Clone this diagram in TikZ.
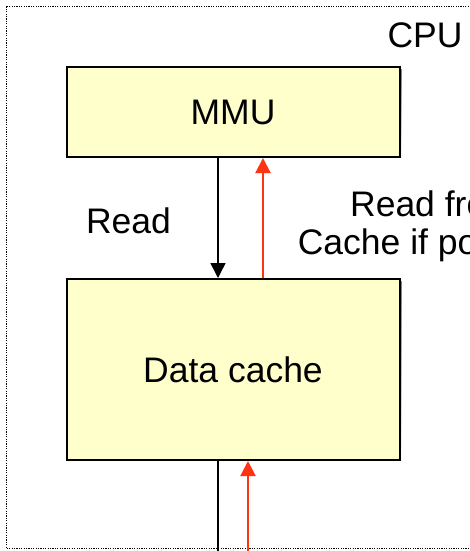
\documentclass[tikz,border=0pt]{standalone}
\usepackage{fontspec}
\setmainfont{Liberation Sans}
\usetikzlibrary{arrows.meta}
\definecolor{boxyellow}{HTML}{FFFFCC}
\definecolor{arrowred}{HTML}{FF3311}
\tikzset{unit/.append style={draw,fill=boxyellow,line width=2pt,minimum width=333pt,inner sep=0pt,font=\fontsize{35.5}{38}\selectfont}}
\tikzset{shade/.append style={fill=gray!60,line width=2pt,minimum width=333pt,inner sep=0pt}}
\tikzset{lbl/.append style={inner sep=0pt,font=\fontsize{35.5}{38}\selectfont}}
\tikzset{req/.append style={line width=1.5pt,-{Triangle[width=15pt,length=15pt]}}}
\tikzset{ans/.append style={arrowred,line width=2pt,-{Triangle[width=15pt,length=15pt]}}}

\begin{document}
\begin{tikzpicture}[x=1pt,y=-1pt]
                % frame of the picture
                \useasboundingbox (0,0) rectangle (470,551);
                \clip (0,0) rectangle (470,551);
                \draw[dash pattern=on 1.2pt off 1.2pt,line width=1.2pt,black] (6.5,6.5) rectangle (490,548.5);
                \node[lbl,anchor=base] (cpu) at (425,48) {CPU};
                % units
                \node[shade,minimum height=90pt] (mmus) at (235,114) {};
                \node[unit,minimum height=90pt] (mmu) at (233,112) {MMU};
                \node[shade,minimum height=181pt] (caches) at (235,371.5) {};
                \node[unit,minimum height=181pt] (cache) at (233,369.5) {Data cache};
                \coordinate (bus) at (233,570);
                % connectors
                \draw[req] ([xshift=-15pt]mmu.south) -- ([xshift=-15pt]cache.north);
                \draw[ans] ([xshift=30pt]cache.north) -- ([xshift=30pt]mmu.south);
                \draw[line width=1.5pt] ([xshift=-15pt]cache.south) -- ([xshift=-15pt]bus);
                \draw[ans] ([xshift=15pt]bus) -- ([xshift=15pt]cache.south);
                % labels
                \node[lbl,anchor=base] (rd) at (128.5,233) {Read};
                \node[lbl,align=center,anchor=north] (rdc) at (433,191) {Read from\\Cache if possible};
            \end{tikzpicture}
\end{document}
